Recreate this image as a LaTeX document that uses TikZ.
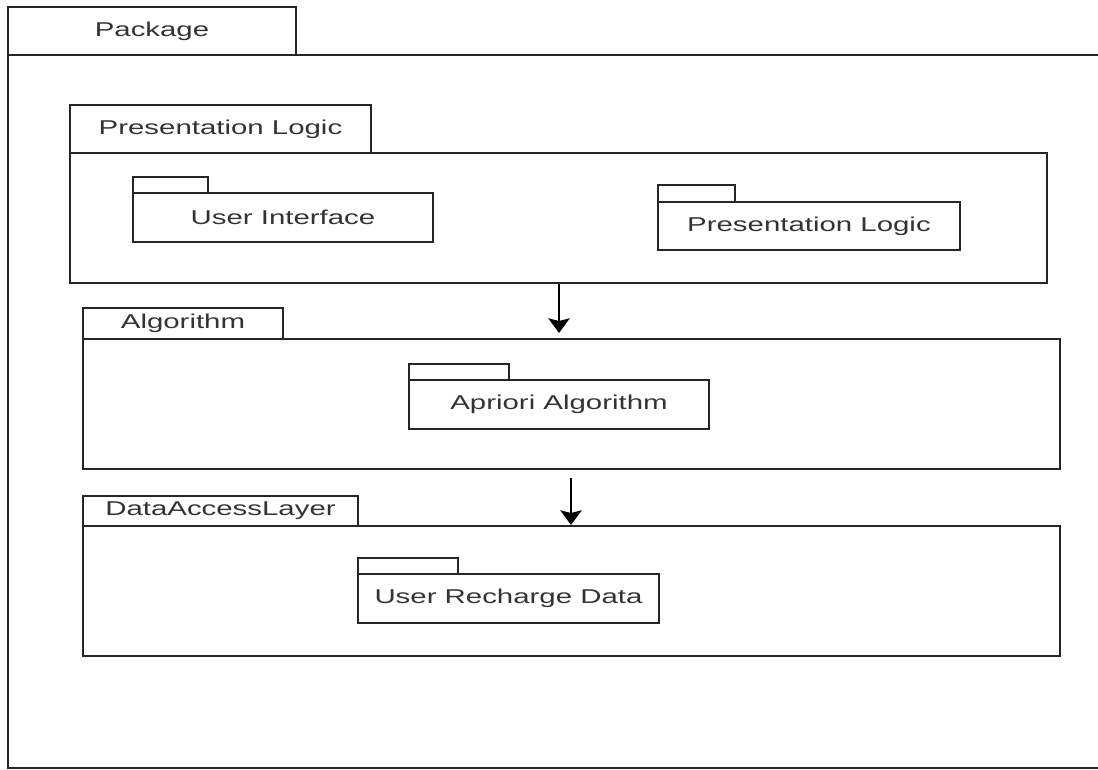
\documentclass[tikz,border=0pt]{standalone}
\usepackage{fontspec}
\setmainfont{Liberation Sans}[FakeStretch=1.47]
\usetikzlibrary{arrows.meta}
\tikzset{
  pk/.style={draw=black!85, line width=1.5pt, inner sep=0pt, text=black!80, font=\fontsize{15pt}{18pt}\selectfont},
  arr/.style={draw=black, line width=1.5pt, -{Stealth[width=16pt,length=11pt,inset=2pt]}}
}
\newcommand\pbox[6]{\node[pk, minimum width={(#4-#2)*0.75pt}, minimum height={(#5-#3)*0.75pt}] (#1) at ({(#2+#4)/2},{(#3+#5)/2}) {#6};}
\begin{document}
\begin{tikzpicture}[x=0.75pt,y=-0.75pt]
\useasboundingbox (0,0) rectangle (1098,770);
% outer package
\pbox{ptab}{8}{7}{296}{55}{Package}
\pbox{pbody}{8}{55}{1120}{768}{}
% presentation logic
\pbox{pltab}{70}{105}{371}{153}{Presentation Logic}
\pbox{plbody}{70}{153}{1047}{283}{}
\pbox{uitab}{133}{177}{208}{193}{}
\pbox{uibody}{133}{193}{433}{242}{User Interface}
\pbox{pl2tab}{658}{185}{735}{202}{}
\pbox{pl2body}{658}{202}{960}{250}{Presentation Logic}
% algorithm
\pbox{altab}{83}{308}{283}{339}{Algorithm}
\pbox{albody}{83}{339}{1060}{469}{}
\pbox{aptab}{409}{364}{509}{380}{}
\pbox{apbody}{409}{380}{709}{429}{Apriori Algorithm}
% data access layer
\pbox{daltab}{83}{496}{358}{526}{DataAccessLayer}
\pbox{dalbody}{83}{526}{1060}{656}{}
\pbox{urtab}{358}{558}{458}{574}{}
\pbox{urbody}{358}{574}{659}{623}{User Recharge Data}
% arrows
\coordinate (a1) at (559,333);
\draw[arr] (plbody.south -| a1) -- (a1);
\coordinate (a2) at (571,478);
\draw[arr] (a2) -- (dalbody.north -| a2);
\end{tikzpicture}
\end{document}
